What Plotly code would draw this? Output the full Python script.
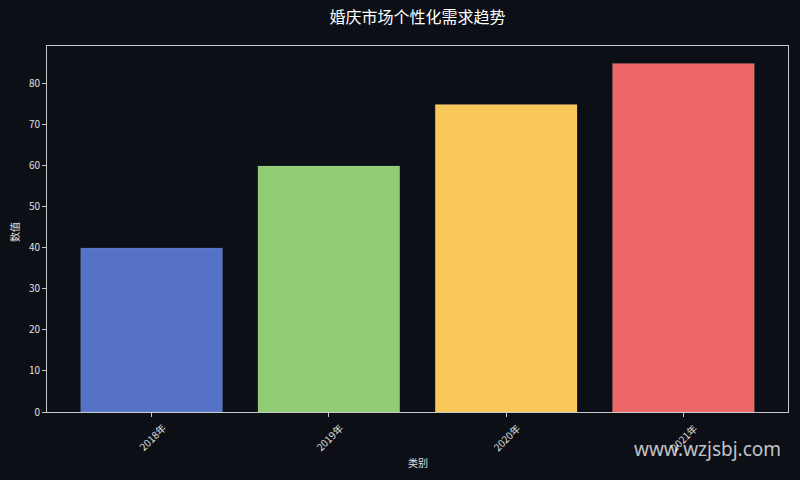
import plotly.graph_objects as go

categories = ["2018年", "2019年", "2020年", "2021年"]
values = [40, 60, 75, 85]
colors = ["#5572c7", "#91cb75", "#f9c85a", "#ee6767"]
title = "婚庆市场个性化需求趋势"
x_title = "类别"
y_title = "数值"
watermark = "www.wzjsbj.com"

FONT = "Noto Sans CJK SC, Liberation Sans, sans-serif"
TXT = "#e0e0e0"

x_idx = list(range(len(categories)))

fig = go.Figure()
fig.add_trace(go.Bar(
    x=x_idx, y=values, width=0.8,
    marker=dict(color=colors, line=dict(color="rgba(255,255,255,0.15)", width=0.6)),
    hoverinfo="y",
))

annotations = []
for i, c in zip(x_idx, categories):
    annotations.append(dict(
        x=i, y=0, xref="x", yref="paper", text=c, showarrow=False,
        textangle=-45, xanchor="center", yanchor="middle", yshift=-25,
        font=dict(size=10, color=TXT, family=FONT),
    ))
annotations.append(dict(
    x=(707 - 47) / 741, y=(412 - 449) / 366, xref="paper", yref="paper",
    text=watermark, showarrow=False, xanchor="center", yanchor="middle",
    font=dict(size=19, color="rgba(255,255,255,0.75)", family="Noto Sans, sans-serif"),
))
annotations.append(dict(
    x=0.5, y=(412 - 462) / 366, xref="paper", yref="paper", text=x_title,
    showarrow=False, xanchor="center", yanchor="middle",
    font=dict(size=10, color=TXT, family=FONT),
))
annotations.append(dict(
    x=(14 - 47) / 741, y=(412 - 232) / 366, xref="paper", yref="paper", text=y_title,
    showarrow=False, xanchor="center", yanchor="middle", textangle=-90,
    font=dict(size=10, color=TXT, family=FONT),
))

fig.update_layout(
    width=800, height=480,
    paper_bgcolor="#0c0f16", plot_bgcolor="#0c0f16",
    margin=dict(l=47, r=12, t=46, b=68),
    title=dict(text=title, xref="paper", x=0.5, xanchor="center",
               yref="container", y=1 - 17.5 / 480, yanchor="middle",
               font=dict(size=16, color="#ffffff", family=FONT)),
    font=dict(family=FONT, color=TXT, size=10),
    showlegend=False,
    annotations=annotations,
    xaxis=dict(
        range=[-0.59, 3.59], tickvals=x_idx, ticktext=["" for _ in categories],
        showgrid=False, zeroline=False, showline=True, mirror=True,
        linecolor="#c8c8c8", linewidth=1, ticks="outside", ticklen=4,
        tickcolor="#c8c8c8",
    ),
    yaxis=dict(
        range=[0, 89.25], tickvals=[0, 10, 20, 30, 40, 50, 60, 70, 80],
        showgrid=False, zeroline=False, showline=True, mirror=True,
        linecolor="#c8c8c8", linewidth=1, ticks="outside", ticklen=4,
        tickcolor="#c8c8c8", tickfont=dict(size=10, color=TXT, family=FONT),
    ),
)

fig.write_html(
    "out.html",
    config={"displayModeBar": False},
    post_script="document.body.style.margin='0';document.body.style.background='#0c0f16';",
)
